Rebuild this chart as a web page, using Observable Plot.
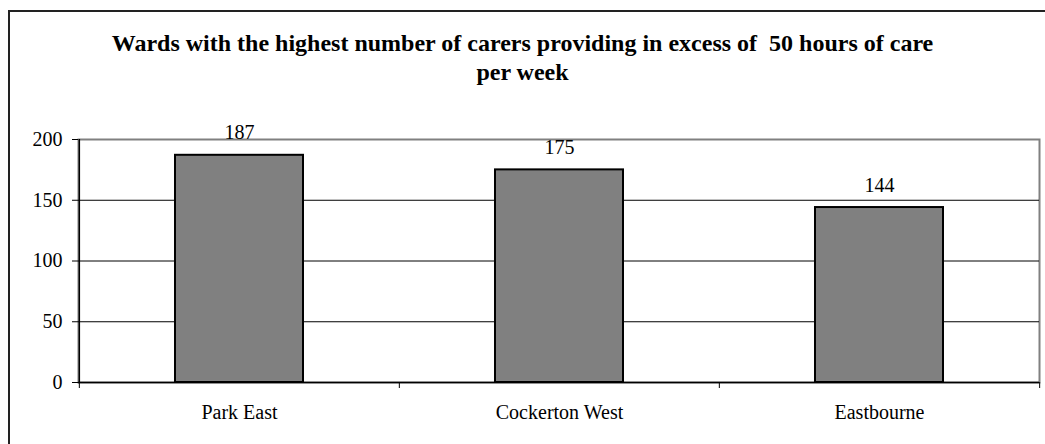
<!DOCTYPE html>
<html>
<head>
<meta charset="utf-8">
<script src="https://cdn.jsdelivr.net/npm/d3@7"></script>
<script src="https://cdn.jsdelivr.net/npm/@observablehq/plot@0.6"></script>
<style>
  html, body { margin: 0; padding: 0; background: #fff; overflow: hidden; }
  #wrap { position: relative; width: 1045px; height: 444px; overflow: hidden; }
  #border { position: absolute; left: 8px; top: 10px; width: 1100px; height: 500px; border: 2px solid #222; box-sizing: border-box; }
  #title { position: absolute; left: 0; width: 1045px; top: 29px; text-align: center;
           font-family: 'Liberation Serif', 'DejaVu Serif', serif; font-weight: bold; font-size: 24px; line-height: 29px; color: #000; }
  #chart { position: absolute; left: 0; top: 0; }
  #chart svg, #chart svg text { font-family: 'Liberation Serif', 'DejaVu Serif', serif !important; }
</style>
</head>
<body>
<div id="wrap">
  <div id="border"></div>
  <div id="title">Wards with the highest number of carers providing in excess of&nbsp; 50 hours of care<br>per week</div>
  <div id="chart"></div>
</div>
<script>
const wards = ["Park East", "Cockerton West", "Eastbourne"];
const carers = [187, 175, 144];
const yTicks = [0, 50, 100, 150, 200];

const data = wards.map((w, i) => ({ward: w, value: carers[i]}));

const W = 1045, H = 444;
const mL = 78, mR = 6, mT = 139, mB = 62;
const step = (W - mL - mR) / wards.length;

const chart = Plot.plot({
  width: W,
  height: H,
  marginLeft: mL,
  marginRight: mR,
  marginTop: mT,
  marginBottom: mB,
  style: { fontFamily: "'Liberation Serif', 'DejaVu Serif', serif", fontSize: "20px", color: "#000", background: "transparent" },
  x: { domain: wards, paddingInner: 0.6, paddingOuter: 0.3, label: null },
  y: { domain: [0, 200], ticks: yTicks, label: null },
  marks: [
    Plot.frame({ stroke: "#808080", strokeWidth: 2 }),
    Plot.ruleY(yTicks.filter(d => d > 0 && d < 200), { stroke: "#000", strokeWidth: 1 }),
    Plot.barY(data, { x: "ward", y: "value", fill: "#808080", stroke: "#000", strokeWidth: 2 }),
    Plot.text(data, { x: "ward", y: "value", text: d => String(d.value), dy: -16, lineAnchor: "bottom", fontSize: 20, fill: "#000" }),
    Plot.ruleY([0], { stroke: "#000", strokeWidth: 1.5 }),
    Plot.ruleX([wards[0]], { dx: -step / 2, stroke: "#000", strokeWidth: 1.5 }),
    Plot.ruleX(wards, { x: d => d, dx: -step / 2, y1: 0, y2: 0, insetBottom: -6, stroke: "#000", strokeWidth: 1 }),
    Plot.ruleX([wards[wards.length - 1]], { dx: step / 2, y1: 0, y2: 0, insetBottom: -6, stroke: "#000", strokeWidth: 1 }),
    Plot.axisY({ ticks: yTicks, tickSize: 6, tickPadding: 10, fontSize: 20, stroke: "#000" }),
    Plot.axisX({ tickSize: 0, tickPadding: 22, fontSize: 20 })
  ]
});
document.getElementById("chart").appendChild(chart);
</script>
</body>
</html>
